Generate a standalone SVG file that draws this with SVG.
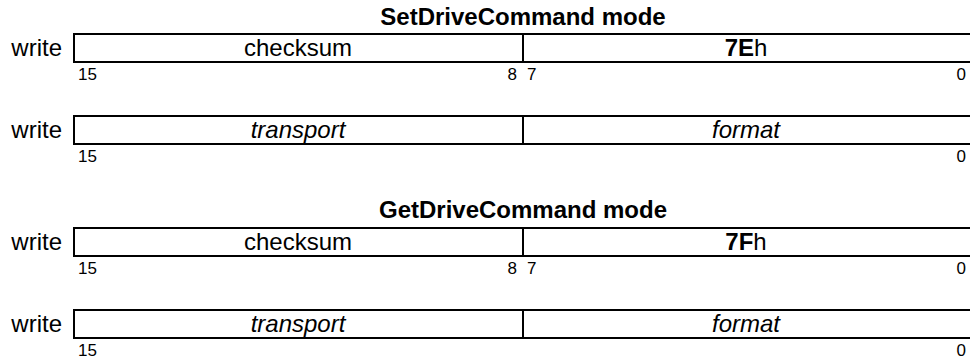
<svg xmlns="http://www.w3.org/2000/svg" width="970" height="362" viewBox="0 0 970 362">
<style>
text{font-family:"Liberation Sans",Arial,sans-serif;fill:#000}
.t{font-size:24px;font-weight:bold;text-anchor:middle}
.f{font-size:24px;text-anchor:middle}
.w{font-size:24px;text-anchor:end}
.b{font-size:17px}
.r{text-anchor:end}
.i{font-style:italic}
.box{fill:none;stroke:#000;stroke-width:2}
</style>
<rect width="970" height="362" fill="#fff"/>
<text class="t" x="523" y="25">SetDriveCommand mode</text>
<g id="set-reg1">
<text class="w" x="62" y="56">write</text>
<rect class="box" x="74" y="34" width="900" height="28"/>
<line class="box" x1="523" y1="34" x2="523" y2="62"/>
<text class="f" x="298" y="56">checksum</text>
<text class="f" x="746" y="56"><tspan font-weight="bold">7E</tspan>h</text>
<text class="b" x="78" y="80">15</text>
<text class="b r" x="517" y="80">8</text>
<text class="b" x="527" y="80">7</text>
<text class="b r" x="966" y="80">0</text>
</g>
<g id="set-reg2">
<text class="w" x="62" y="138">write</text>
<rect class="box" x="74" y="116" width="900" height="28"/>
<line class="box" x1="523" y1="116" x2="523" y2="144"/>
<text class="f i" x="298" y="138">transport</text>
<text class="f i" x="746" y="138">format</text>
<text class="b" x="78" y="162">15</text>
<text class="b r" x="966" y="162">0</text>
</g>
<text class="t" x="523" y="218">GetDriveCommand mode</text>
<g id="get-reg1">
<text class="w" x="62" y="250">write</text>
<rect class="box" x="74" y="228" width="900" height="28"/>
<line class="box" x1="523" y1="228" x2="523" y2="256"/>
<text class="f" x="298" y="250">checksum</text>
<text class="f" x="746" y="250"><tspan font-weight="bold">7F</tspan>h</text>
<text class="b" x="78" y="274">15</text>
<text class="b r" x="517" y="274">8</text>
<text class="b" x="527" y="274">7</text>
<text class="b r" x="966" y="274">0</text>
</g>
<g id="get-reg2">
<text class="w" x="62" y="332">write</text>
<rect class="box" x="74" y="310" width="900" height="28"/>
<line class="box" x1="523" y1="310" x2="523" y2="338"/>
<text class="f i" x="298" y="332">transport</text>
<text class="f i" x="746" y="332">format</text>
<text class="b" x="78" y="356">15</text>
<text class="b r" x="966" y="356">0</text>
</g>
</svg>
